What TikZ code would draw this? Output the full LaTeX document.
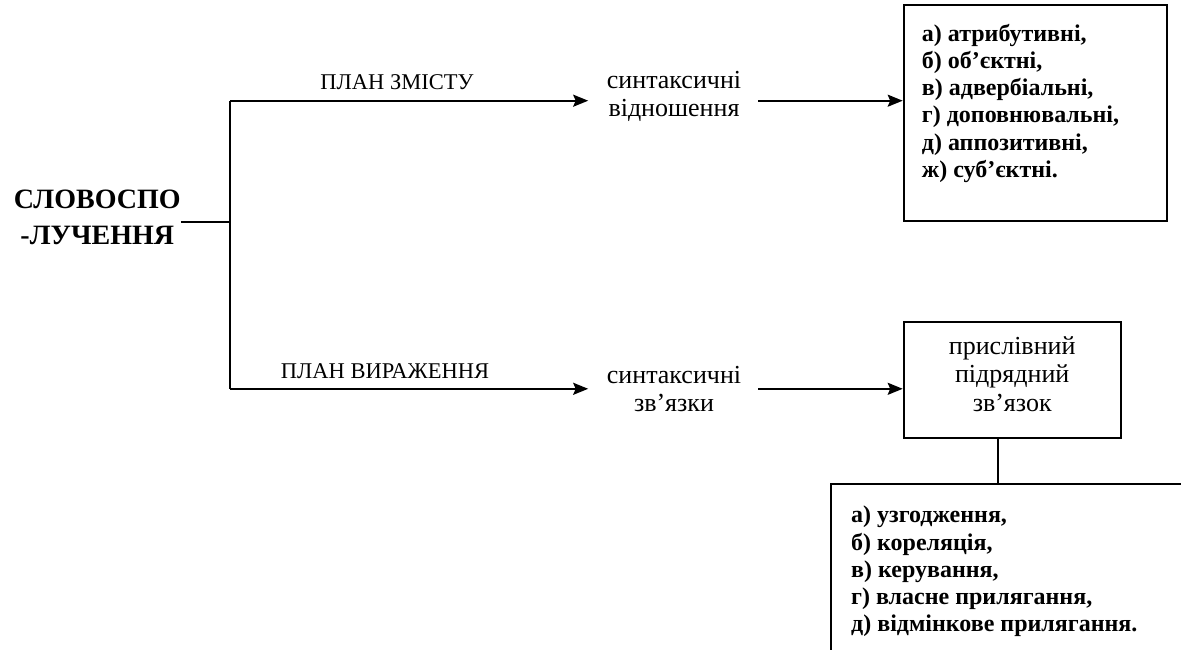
\documentclass[tikz,border=0pt]{standalone}
\usepackage{fontspec}
\setmainfont{Liberation Serif}
\usetikzlibrary{arrows.meta}
\begin{document}
\begin{tikzpicture}[x=1pt,y=-1pt,
  line/.style={line width=2pt},
  arr/.style={line, -{Stealth[length=15pt,width=12pt,inset=2.5pt]}},
  box/.style={draw, line width=2pt, inner sep=0pt},
  word/.style={font=\fontsize{26}{28.5}\selectfont, align=center, inner sep=0pt},
  plan/.style={font=\fontsize{22.5}{27}\selectfont, inner sep=0pt, anchor=base},
  list/.style={font=\bfseries\fontsize{24}{27.2}\selectfont, align=left, inner sep=0pt, anchor=north west}]
\useasboundingbox (0,0) rectangle (1181,650);
\clip (0,0) rectangle (1181,650);

% main term
\node[font=\bfseries\fontsize{28}{35.7}\selectfont, align=center, inner sep=0pt, anchor=north]
  (term) at (97.3,190) {СЛОВОСПО\\-ЛУЧЕННЯ};

% fork into the two planes
\coordinate (mid) at (230,221.7);
\coordinate (top) at (230,100.7);
\coordinate (bot) at (230,388.8);
\draw[line] (top) -- (bot);
\draw[line] (term.east |- mid) -- (mid);

% plan labels
\node[plan] (content) at (397,90)    {ПЛАН ЗМІСТУ};
\node[plan] (expr)    at (385,378.3) {ПЛАН ВИРАЖЕННЯ};

% intermediate terms
\node[word, anchor=north] (rel)  at (674,70.6)  {синтаксичні\\відношення};
\node[word, anchor=north] (link) at (674,365.6) {синтаксичні\\зв’язки};

\draw[arr] (top) -- ([xshift=-18.5pt]top -| rel.west);
\draw[arr] (bot) -- ([xshift=-18.5pt]bot -| link.west);

% kinds of syntactic relations
\node[box, anchor=north west, minimum width=263.3pt, minimum height=216pt]
  (attr) at (902.7,4) {};
\node[list] (attrlist) at (921.7,24)
  {а) атрибутивні,\\б) об’єктні,\\в) адвербіальні,\\г) доповнювальні,\\д) аппозитивні,\\ж) суб’єктні.};
\draw[arr] ([xshift=17pt]rel.east |- top) -- (top -| attr.west);

% adverbial subordinate link
\node[box, word, anchor=north west, minimum width=217pt, minimum height=115.7pt, text depth=12pt]
  (adv) at (902.7,321) {прислівний\\підрядний\\зв’язок};
\draw[arr] ([xshift=17pt]link.east |- bot) -- (bot -| adv.west);

% kinds of the link
\node[box, anchor=north west, minimum width=420pt, minimum height=220pt]
  (kinds) at (830,483.3) {};
\node[list] (kindlist) at (851,506)
  {а) узгодження,\\б) кореляція,\\в) керування,\\г) власне прилягання,\\д) відмінкове прилягання.};
\draw[line] (adv.south -| 998.3,0) -- (998.3,483.3 |- kinds.north);
\end{tikzpicture}
\end{document}
